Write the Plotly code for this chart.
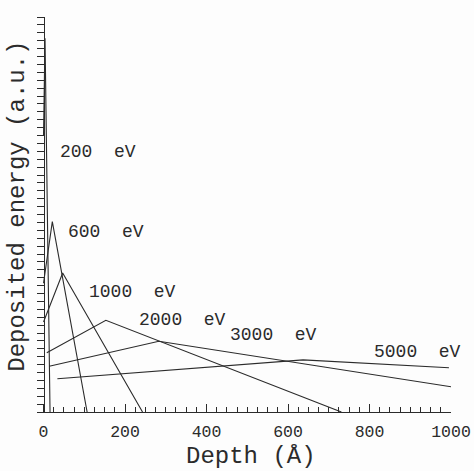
import plotly.graph_objects as go

# Deposited energy profiles vs depth for several primary electron energies.
# Each profile: (depth in Å, deposited energy in arbitrary units).
energies = ["200", "600", "1000", "2000", "3000", "5000"]

depth_200 = [0, 3.7, 16]
dep_200 = [35.0, 47.3, 0]

depth_600 = [0, 21.6, 107]
dep_600 = [16.3, 24.1, 0]

depth_1000 = [0, 47, 243]
dep_1000 = [11.4, 17.6, 0]

depth_2000 = [8, 153, 731]
dep_2000 = [7.5, 11.6, 0]

depth_3000 = [14, 283, 1000]
dep_3000 = [5.8, 8.95, 3.2]

depth_5000 = [34, 637, 995]
dep_5000 = [4.2, 6.6, 5.6]

# Label anchor (left edge, vertical centre) for each curve
label_x = [35.5, 55, 107, 229, 452, 807]
label_y = [32.9, 22.8, 15.2, 11.6, 9.7, 7.6]

depths = [depth_200, depth_600, depth_1000, depth_2000, depth_3000, depth_5000]
deps = [dep_200, dep_600, dep_1000, dep_2000, dep_3000, dep_5000]

FONT = "Liberation Mono, Courier New, monospace"
INK = "#2b2b2b"

fig = go.Figure()
for e, xs, ys in zip(energies, depths, deps):
    fig.add_trace(go.Scatter(x=xs, y=ys, mode="lines", name=f"{e} eV",
                             line=dict(color=INK, width=1.1),
                             showlegend=False))

for e, lx, ly in zip(energies, label_x, label_y):
    fig.add_annotation(x=lx, y=ly, xref="x", yref="y",
                       text=f"{e}\u00a0\u00a0eV", showarrow=False,
                       xanchor="left", yanchor="middle",
                       font=dict(family=FONT, size=18, color=INK))

# Axis titles
fig.add_annotation(x=0.5175, y=-0.113, xref="paper", yref="paper",
                   text="Depth (Å)", showarrow=False,
                   xanchor="center", yanchor="middle",
                   font=dict(family=FONT, size=24, color=INK))
fig.add_annotation(x=-0.047, y=0.521, xref="paper", yref="paper",
                   text="Deposited energy (a.u.)", showarrow=False,
                   textangle=-90, xanchor="center", yanchor="middle",
                   font=dict(family=FONT, size=24, color=INK))

fig.update_layout(
    width=474, height=471,
    margin=dict(l=37, r=22.5, t=16.7, b=59, autoexpand=False),
    paper_bgcolor="#fdfdfd", plot_bgcolor="#fdfdfd",
    xaxis=dict(range=[-16, 1000], showgrid=False, zeroline=False,
               automargin=False,
               showline=True, linecolor=INK, linewidth=1,
               tickmode="linear", tick0=0, dtick=200,
               ticks="inside", ticklen=8, tickcolor=INK, tickwidth=1,
               ticklabelstandoff=4,
               minor=dict(dtick=25, tick0=0, ticks="inside", ticklen=5,
                          tickcolor=INK, tickwidth=1, showgrid=False),
               tickfont=dict(family=FONT, size=16.5, color=INK)),
    yaxis=dict(range=[0, 50], showgrid=False, zeroline=False,
               automargin=False,
               anchor="free", position=16 / 1016,
               showline=True, linecolor=INK, linewidth=1,
               tickmode="linear", tick0=0, dtick=1,
               ticks="outside", ticklen=7, tickcolor=INK, tickwidth=1,
               showticklabels=False),
)

fig.write_html("out.html")
